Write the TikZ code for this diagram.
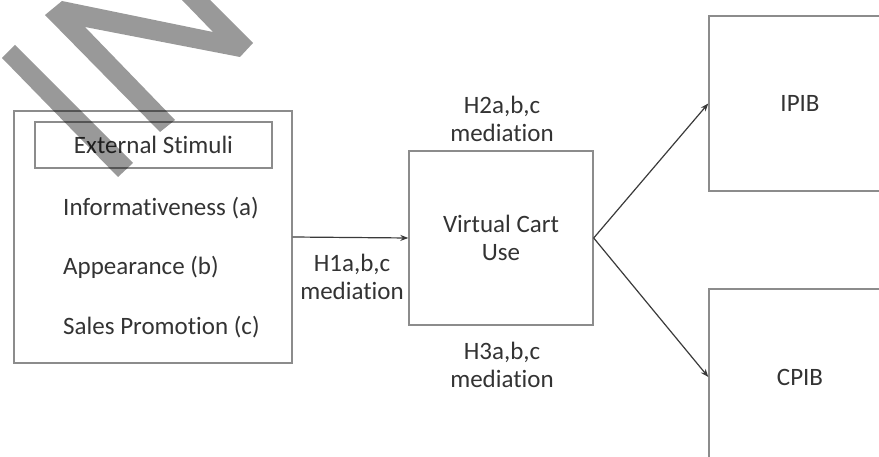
\documentclass[tikz,border=0pt]{standalone}
\usepackage{fontspec}
\setmainfont{Carlito}[Ligatures=NoCommon]
\usetikzlibrary{arrows.meta}
\definecolor{boxgray}{HTML}{8C8C8C}
\definecolor{arrgray}{HTML}{3A3A3A}
\definecolor{txtgray}{HTML}{333333}
\begin{document}
\begin{tikzpicture}[x=1pt,y=-1pt,
  box/.style={draw=boxgray, line width=1.4pt, rectangle, inner sep=0pt},
  lbl/.style={text=txtgray, font=\fontsize{25}{27.5}\selectfont, align=center, inner sep=0pt},
  conn/.style={draw=arrgray, line width=1.2pt, -{Stealth[length=8pt,width=6pt]}},
  wm/.style={fill=black, fill opacity=0.4, draw=none}]
\useasboundingbox (0,0) rectangle (879,457);
% boxes
\node[box, minimum width=278pt, minimum height=252pt] (ext) at (153,237) {};
\node[box, lbl, minimum width=237pt, minimum height=46pt] (es) at (153.5,145) {External Stimuli};
\node[lbl, anchor=west] (inf) at (63,208) {Informativeness (a)};
\node[lbl, anchor=west] (app) at (63,267) {Appearance (b)};
\node[lbl, anchor=west] (sp) at (63,327) {Sales Promotion (c)};
\node[box, lbl, minimum width=184pt, minimum height=174pt] (vcu) at (501,238) {Virtual Cart\\Use};
\node[box, lbl, minimum width=182pt, minimum height=175pt] (ipib) at (800,103.5) {IPIB};
\node[box, lbl, minimum width=182pt, minimum height=176pt] (cpib) at (800,377) {CPIB};
% labels
\node[lbl] (h1) at (352,277) {H1a,b,c\\mediation};
\node[lbl] (h2) at (502,119) {H2a,b,c\\mediation};
\node[lbl] (h3) at (502,365) {H3a,b,c\\mediation};
% connectors
\draw[conn] (ext.east) -- (vcu.west);
\draw[conn] (vcu.east) -- (ipib.west);
\draw[conn] (vcu.east) -- (cpib.west);
% watermark
\fill[wm] (2,58) -- (15,45) -- (133,163) -- (118,177) -- cycle;
\fill[wm] (45,15) -- (62,1) -- (213,32) -- (182,0) -- (210,0) -- (253,43) -- (240,57) -- (85,27) -- (175,120) -- (160,132) -- cycle;
\end{tikzpicture}
\end{document}
